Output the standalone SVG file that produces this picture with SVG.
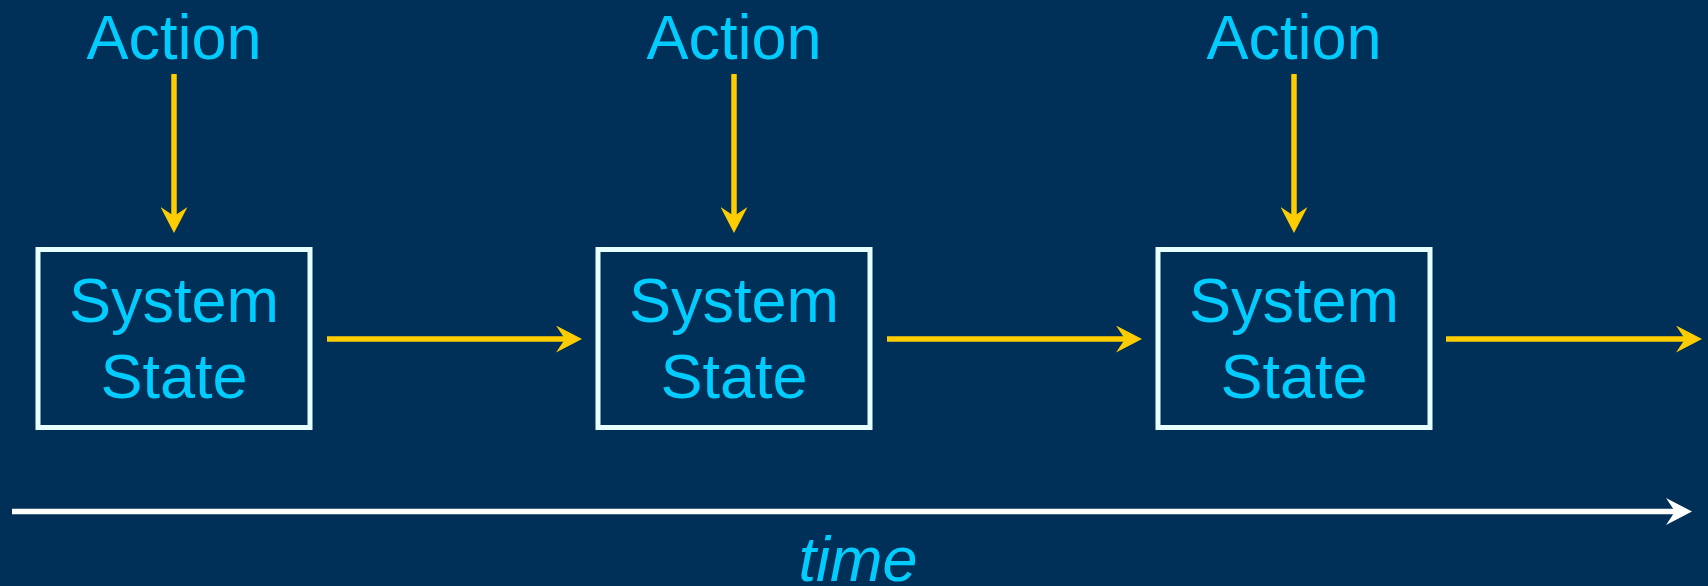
<svg xmlns="http://www.w3.org/2000/svg" width="1708" height="586" viewBox="0 0 1708 586">
  <defs>
    <style>
      .label { font-family: "Liberation Sans", Arial, sans-serif; font-size: 63px; fill: #00CCFF; text-anchor: middle; }
      .box { fill: none; stroke: #E6FFFF; stroke-width: 5; }
      .flow { stroke: #FFCC00; stroke-width: 5.5; fill: none; }
      .axis { stroke: #FFFFFF; stroke-width: 5.5; fill: none; }
    </style>
    <marker id="headYellow" markerUnits="userSpaceOnUse" markerWidth="27" markerHeight="27" viewBox="0 0 27 27" refX="11" refY="13.5" orient="auto">
      <path d="M0,0 L26,13.5 L0,27 L9,13.5 Z" fill="#FFCC00"/>
    </marker>
    <marker id="headWhite" markerUnits="userSpaceOnUse" markerWidth="27" markerHeight="27" viewBox="0 0 27 27" refX="11" refY="13.5" orient="auto">
      <path d="M0,0 L26,13.5 L0,27 L9,13.5 Z" fill="#FFFFFF"/>
    </marker>
  </defs>

  <rect width="1708" height="586" fill="#003057"/>

  <!-- action labels -->
  <g id="action1"><text class="label" x="174" y="59">Action</text></g>
  <g id="action2"><text class="label" x="734" y="59">Action</text></g>
  <g id="action3"><text class="label" x="1294" y="59">Action</text></g>

  <!-- system state nodes -->
  <g id="state1">
    <rect class="box" x="38" y="249.5" width="272" height="178"/>
    <text class="label" x="174" y="322">System</text>
    <text class="label" x="174" y="398">State</text>
  </g>
  <g id="state2">
    <rect class="box" x="598" y="249.5" width="272" height="178"/>
    <text class="label" x="734" y="322">System</text>
    <text class="label" x="734" y="398">State</text>
  </g>
  <g id="state3">
    <rect class="box" x="1158" y="249.5" width="272" height="178"/>
    <text class="label" x="1294" y="322">System</text>
    <text class="label" x="1294" y="398">State</text>
  </g>

  <!-- connectors -->
  <g id="connectors">
    <line class="flow" x1="174" y1="74" x2="174" y2="218" marker-end="url(#headYellow)"/>
    <line class="flow" x1="734" y1="74" x2="734" y2="218" marker-end="url(#headYellow)"/>
    <line class="flow" x1="1294" y1="74" x2="1294" y2="218" marker-end="url(#headYellow)"/>
    <line class="flow" x1="327" y1="339" x2="567" y2="339" marker-end="url(#headYellow)"/>
    <line class="flow" x1="887" y1="339" x2="1127" y2="339" marker-end="url(#headYellow)"/>
    <line class="flow" x1="1446" y1="339" x2="1687" y2="339" marker-end="url(#headYellow)"/>
  </g>

  <!-- time axis -->
  <g id="timeline">
    <line class="axis" x1="12" y1="511.5" x2="1677" y2="511.5" marker-end="url(#headWhite)"/>
    <text class="label" x="858" y="581" font-style="italic">time</text>
  </g>
</svg>
